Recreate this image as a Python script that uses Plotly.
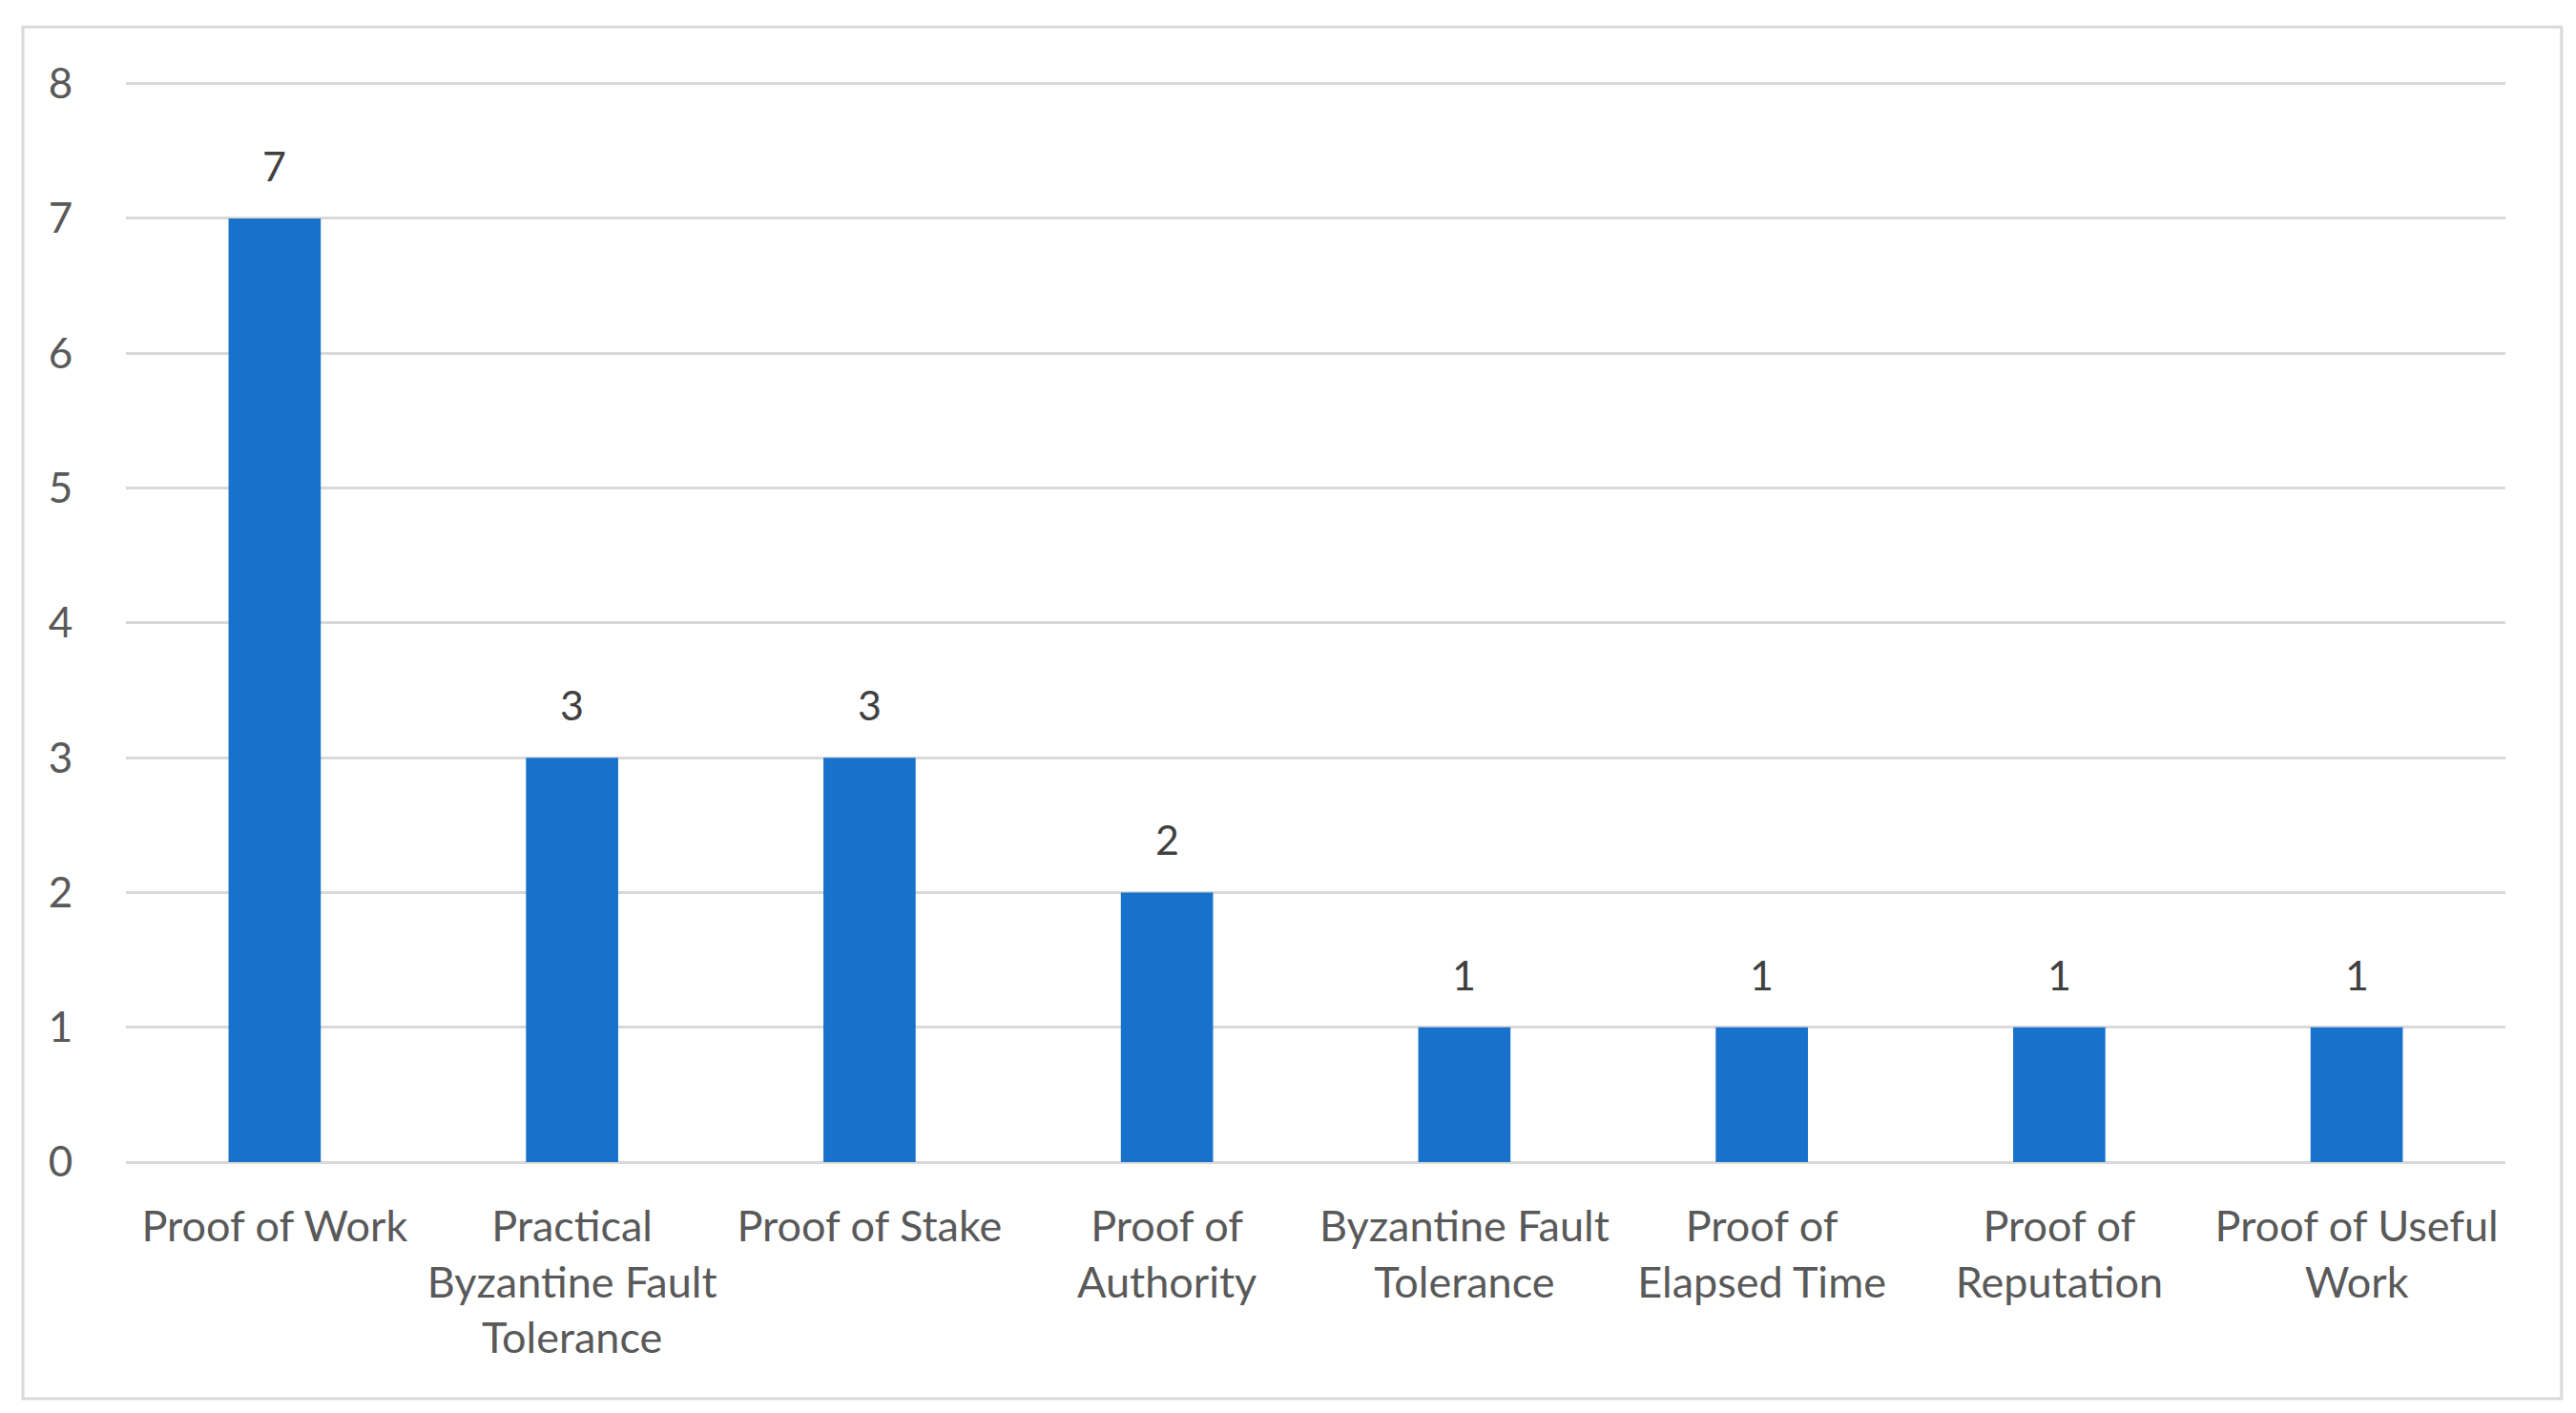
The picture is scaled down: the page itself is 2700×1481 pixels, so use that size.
import plotly.graph_objects as go

categories = [
    "Proof of Work",
    "Practical<br>Byzantine Fault<br>Tolerance",
    "Proof of Stake",
    "Proof of<br>Authority",
    "Byzantine Fault<br>Tolerance",
    "Proof of<br>Elapsed Time",
    "Proof of<br>Reputation",
    "Proof of Useful<br>Work",
]
values = [7, 3, 3, 2, 1, 1, 1, 1]
y_ticks = [0, 1, 2, 3, 4, 5, 6, 7, 8]

FONT = "Lato, Calibri, sans-serif"
BAR_COLOR = "#1872CC"
TEXT_COLOR = "#595959"

fig = go.Figure()
fig.add_trace(go.Bar(
    x=categories,
    y=values,
    marker=dict(color=BAR_COLOR, line=dict(width=0)),
    hoverinfo="x+y",
))

annotations = [
    dict(x=c, y=v, xref="x", yref="y", text=str(v), showarrow=False,
         yanchor="bottom", yshift=28,
         font=dict(family=FONT, size=43, color="#404040"))
    for c, v in zip(categories, values)
]

fig.update_layout(
    width=2700, height=1481,
    margin=dict(l=124, r=82, t=78, b=271),
    paper_bgcolor="white",
    plot_bgcolor="white",
    showlegend=False,
    bargap=0.69,
    font=dict(family=FONT, size=44, color=TEXT_COLOR),
    annotations=annotations,
    shapes=[dict(type="rect", xref="paper", yref="paper",
                 x0=-0.0433, x1=1.0236, y0=-0.219, y1=1.051,
                 line=dict(color="#D9D9D9", width=3), fillcolor="rgba(0,0,0,0)",
                 layer="below")],
)
fig.update_xaxes(
    type="category",
    showgrid=False,
    showline=False,
    zeroline=False,
    ticks="outside", ticklen=28, tickcolor="rgba(0,0,0,0)",
    tickfont=dict(family=FONT, size=45, color=TEXT_COLOR),
)
fig.update_yaxes(
    range=[0, 8.012],
    tickvals=y_ticks,
    showgrid=True, gridcolor="#D9D9D9", gridwidth=3,
    zeroline=True, zerolinecolor="#D9D9D9", zerolinewidth=3,
    showline=False,
    ticks="outside", ticklen=46, tickcolor="rgba(0,0,0,0)",
    tickfont=dict(family=FONT, size=44, color=TEXT_COLOR),
)

fig.write_html("out.html")
